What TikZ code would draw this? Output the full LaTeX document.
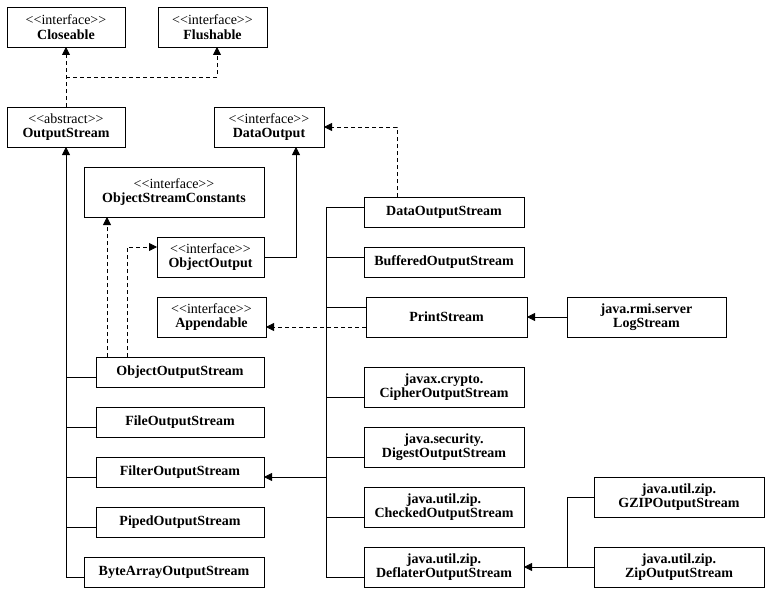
\documentclass[tikz,border=0pt]{standalone}
\usepackage{fontspec}
\setmainfont{Liberation Serif}
\usetikzlibrary{arrows.meta}
\tikzset{
  box/.style={draw, line width=0.8pt, fill=white, align=center, inner sep=0pt, outer sep=0pt,
    font=\fontsize{14}{14.5}\selectfont\bfseries},
  conn/.style={line width=0.8pt},
  dsh/.style={conn, dash pattern=on 4pt off 3pt},
  tri/.style={-{Triangle[length=8pt,width=8pt]}},
}
\newcommand{\stereo}[1]{{\mdseries <{}<#1>{}>}}
\begin{document}
\begin{tikzpicture}[x=1pt,y=-1pt]
\fill[white] (0,0) rectangle (771,594);
\useasboundingbox (0,0) rectangle (771,594);
% top interfaces
\node[box, minimum width=118pt, minimum height=40pt] (clo) at (66,27) {\stereo{interface}\\Closeable};
\node[box, minimum width=109pt, minimum height=40pt] (flu) at (212.5,27) {\stereo{interface}\\Flushable};
\node[box, minimum width=118pt, minimum height=40pt] (os) at (66,127) {\stereo{abstract}\\OutputStream};
\node[box, minimum width=110pt, minimum height=40pt] (dout) at (269,127) {\stereo{interface}\\DataOutput};
\node[box, minimum width=180pt, minimum height=50pt] (osc) at (174,192) {\stereo{interface}\\ObjectStreamConstants};
\node[box, minimum width=107pt, minimum height=40pt] (oo) at (210.5,257) {\stereo{interface}\\ObjectOutput};
\node[box, minimum width=109pt, minimum height=40pt] (app) at (211.5,317) {\stereo{interface}\\Appendable};
% left column
\node[box, minimum width=168pt, minimum height=30pt] (oos) at (180,372) {ObjectOutputStream};
\node[box, minimum width=168pt, minimum height=30pt] (fos) at (180,422) {FileOutputStream};
\node[box, minimum width=168pt, minimum height=30pt] (filt) at (180,472) {FilterOutputStream};
\node[box, minimum width=168pt, minimum height=30pt] (pos) at (180,522) {PipedOutputStream};
\node[box, minimum width=180pt, minimum height=30pt] (baos) at (174,572) {ByteArrayOutputStream};
% middle column
\node[box, minimum width=160pt, minimum height=30pt] (dos) at (444,212) {DataOutputStream};
\node[box, minimum width=160pt, minimum height=30pt] (bos) at (444,262) {BufferedOutputStream};
\node[box, minimum width=161pt, minimum height=40pt] (ps) at (446.5,317) {PrintStream};
\node[box, minimum width=160pt, minimum height=40pt] (cos) at (444,387) {javax.crypto.\\CipherOutputStream};
\node[box, minimum width=160pt, minimum height=40pt] (dig) at (444,447) {java.security.\\DigestOutputStream};
\node[box, minimum width=160pt, minimum height=40pt] (chk) at (444,507) {java.util.zip.\\CheckedOutputStream};
\node[box, minimum width=160pt, minimum height=40pt] (dfl) at (444,567) {java.util.zip.\\DeflaterOutputStream};
% right column
\node[box, minimum width=159pt, minimum height=40pt] (log) at (646.5,317) {java.rmi.server\\LogStream};
\node[box, minimum width=170pt, minimum height=40pt] (gz) at (679,497) {java.util.zip.\\GZIPOutputStream};
\node[box, minimum width=170pt, minimum height=40pt] (zip) at (679,567) {java.util.zip.\\ZipOutputStream};
% coordinates
\coordinate (j1) at (66,77);
\coordinate (lb) at (66,577);
\coordinate (rt) at (326,207);
\coordinate (rb) at (326,577);
\coordinate (fj) at (326,477);
\coordinate (zj) at (567,567);
\coordinate (d1) at ([xshift=-73pt]oos.north);
\coordinate (d2) at ([xshift=-53pt]oos.north);
% OutputStream implements Closeable, Flushable
\draw[dsh,tri] (os.north) -- (clo.south);
\draw[dsh,tri] (j1) -| ([xshift=4.5pt]flu.south);
% left trunk
\draw[conn,tri] (lb) -- (os.south);
\draw[conn] ([yshift=-5pt]oos.west) -- ++(-30,0);
\draw[conn] ([yshift=-5pt]fos.west) -- ++(-30,0);
\draw[conn] ([yshift=-5pt]filt.west) -- ++(-30,0);
\draw[conn] ([yshift=-5pt]pos.west) -- ++(-30,0);
\draw[conn] ([yshift=-5pt]baos.west) -- ++(-18,0);
% ObjectOutputStream implements
\draw[dsh,tri] (d1) -- (d1 |- osc.south);
\draw[dsh,tri] (d2) |- ([yshift=10pt]oo.west);
% ObjectOutput extends DataOutput
\draw[conn,tri] (oo.east) -| ([xshift=27pt]dout.south);
% DataOutputStream implements DataOutput
\draw[dsh,tri] ([xshift=-47pt]dos.north) |- (dout.east);
% right trunk
\draw[conn] (rt) -- (rb);
\draw[conn] ([yshift=5pt]dos.west) -- ++(-38,0);
\draw[conn] ([yshift=5pt]bos.west) -- ++(-38,0);
\draw[conn] ([yshift=10pt]ps.west) -- ++(-40,0);
\draw[conn] ([yshift=-10pt]cos.west) -- ++(-38,0);
\draw[conn] ([yshift=-10pt]dig.west) -- ++(-38,0);
\draw[conn] ([yshift=-10pt]chk.west) -- ++(-38,0);
\draw[conn] ([yshift=-10pt]dfl.west) -- ++(-38,0);
\draw[conn,tri] (fj) -- ([yshift=-5pt]filt.east);
% PrintStream implements Appendable
\draw[dsh,tri] ([yshift=-10pt]ps.west) -- ([yshift=-10pt]app.east);
% LogStream extends PrintStream
\draw[conn,tri] (log.west) -- (ps.east);
% zip streams
\draw[conn] (gz.west) -| (zj);
\draw[conn,tri] (zip.west) -- (dfl.east);
\end{tikzpicture}
\end{document}
